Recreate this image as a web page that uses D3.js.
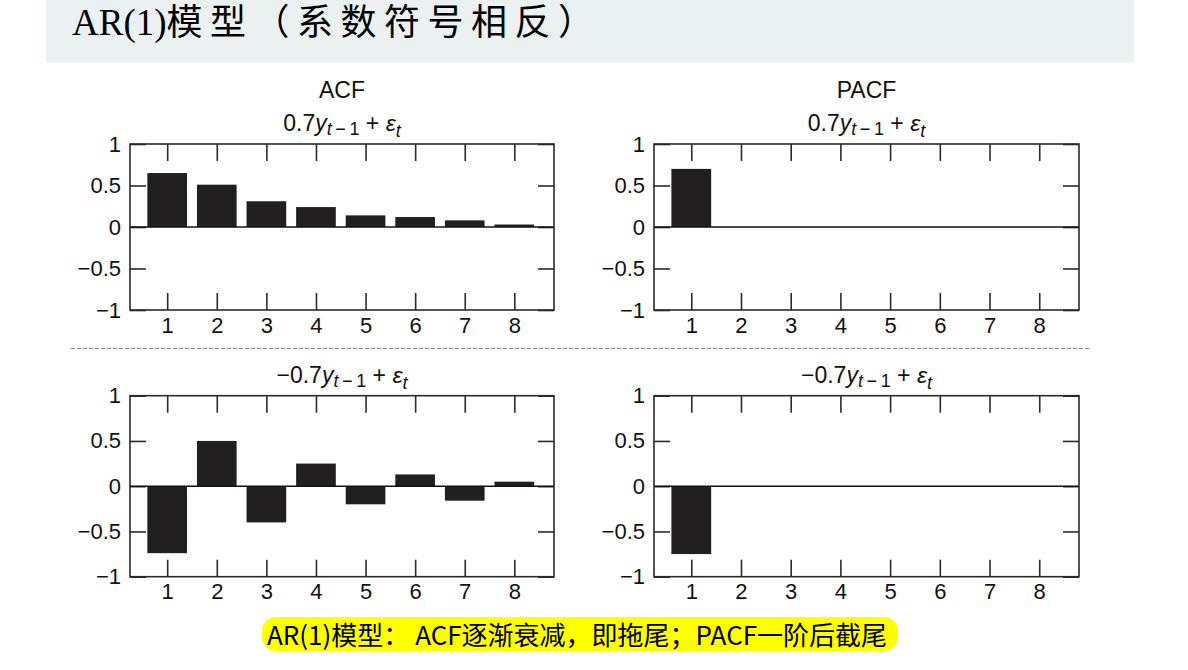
<!DOCTYPE html>
<html>
<head>
<meta charset="utf-8">
<script src="https://cdn.jsdelivr.net/npm/d3@7/dist/d3.min.js"></script>
<style>
  html, body { margin: 0; padding: 0; background: #fff; }
  svg { display: block; }
</style>
</head>
<body>
<svg id="chart" width="1188" height="670"></svg>
<script>
// ---- data ----
const lags = [1, 2, 3, 4, 5, 6, 7, 8];
const acfPositive  = [0.65, 0.51, 0.31, 0.24, 0.14, 0.12, 0.08, 0.03];
const pacfPositive = [0.70, 0, 0, 0, 0, 0, 0, 0];
const acfNegative  = [-0.74, 0.50, -0.40, 0.25, -0.20, 0.13, -0.16, 0.05];
const pacfNegative = [-0.75, 0, 0, 0, 0, 0, 0, 0];
const yTickValues = [-1, -0.5, 0, 0.5, 1];
const yTickLabels = ["\u22121", "\u22120.5", "0", "0.5", "1"];
const columnTitles = ["ACF", "PACF"];
const pageTitleLatin = "AR(1)";
const pageTitleCJK = "模型（系数符号相反）";
const noteText = "AR(1)模型： ACF逐渐衰减，即拖尾；PACF一阶后截尾";

// ---- layout ----
const svg = d3.select("#chart");
const cols = [{x0: 130, x1: 554}, {x0: 654, x1: 1079}];
const rows = [{y0: 144, y1: 310, coef: "0.7", subY: 131}, {y0: 395.7, y1: 576.7, coef: "\u22120.7", subY: 383}];
const seriesGrid = [[acfPositive, pacfPositive], [acfNegative, pacfNegative]];

// title band
svg.append("rect").attr("x", 46).attr("y", 0).attr("width", 1088).attr("height", 62.5).attr("fill", "#ebf1f1");
const t = svg.append("text").attr("x", 72).attr("y", 35).attr("fill", "#000");
t.append("tspan").text(pageTitleLatin)
  .attr("font-family", "'Liberation Serif', 'DejaVu Serif', serif").attr("font-size", 37);
t.append("tspan").text(pageTitleCJK)
  .attr("font-family", "'Noto Sans CJK SC', sans-serif").attr("font-size", 36)
  .attr("letter-spacing", 7.5);

// dashed separator
svg.append("line").attr("x1", 71).attr("x2", 1089).attr("y1", 348.5).attr("y2", 348.5)
  .attr("stroke", "#8a8a8a").attr("stroke-width", 1).attr("stroke-dasharray", "4,2");

const ink = "#2a2a2a";
const sansFont = "'Liberation Sans', Arial, sans-serif";

rows.forEach((row, ri) => {
  cols.forEach((col, ci) => {
    const values = seriesGrid[ri][ci];
    const x = d3.scaleLinear().domain([0.25, 8.8]).range([col.x0, col.x1]);
    const y = d3.scaleLinear().domain([-1, 1]).range([row.y1, row.y0]);
    const g = svg.append("g");
    const cx = (col.x0 + col.x1) / 2;

    // column title (top row only)
    if (ri === 0) {
      g.append("text").attr("x", cx).attr("y", 98).attr("text-anchor", "middle")
        .attr("font-family", sansFont).attr("font-size", 23).attr("fill", "#111")
        .text(columnTitles[ci]);
    }
    // formula subtitle
    const f = g.append("text").attr("x", cx).attr("y", row.subY).attr("text-anchor", "middle")
      .attr("font-family", sansFont).attr("font-size", 23).attr("fill", "#111");
    f.append("tspan").text(row.coef);
    f.append("tspan").attr("font-style", "italic").text("y");
    f.append("tspan").attr("font-size", 18).attr("dy", 4).attr("font-style", "italic").text("t");
    f.append("tspan").attr("font-size", 18).text("\u2009\u2212\u20091");
    f.append("tspan").attr("dy", -4).text(" + ");
    f.append("tspan").attr("font-style", "italic").text("\u03b5");
    f.append("tspan").attr("font-size", 18).attr("dy", 6).attr("font-style", "italic").text("t");

    // bars
    g.selectAll("rect.bar").data(lags.map((l, i) => ({lag: l, v: values[i]})).filter(d => d.v !== 0))
      .join("rect").attr("class", "bar")
      .attr("x", d => x(d.lag - 0.4))
      .attr("width", d => x(d.lag + 0.4) - x(d.lag - 0.4))
      .attr("y", d => y(Math.max(0, d.v)))
      .attr("height", d => Math.abs(y(d.v) - y(0)))
      .attr("fill", "#231f20");

    // axes
    const axB = g.append("g").attr("transform", `translate(0,${row.y1})`)
      .call(d3.axisBottom(x).tickValues(lags).tickSize(-17).tickPadding(7).tickFormat(d3.format("d")));
    const axT = g.append("g").attr("transform", `translate(0,${row.y0})`)
      .call(d3.axisTop(x).tickValues(lags).tickSize(-17).tickFormat(""));
    const axL = g.append("g").attr("transform", `translate(${col.x0},0)`)
      .call(d3.axisLeft(y).tickValues(yTickValues).tickSize(-16).tickPadding(9)
        .tickFormat(d => yTickLabels[yTickValues.indexOf(d)]));
    const axR = g.append("g").attr("transform", `translate(${col.x1},0)`)
      .call(d3.axisRight(y).tickValues(yTickValues).tickSize(-16).tickFormat(""));
    [axB, axT, axL, axR].forEach(a => {
      a.select(".domain").remove();
      a.selectAll("line").attr("stroke", ink).attr("stroke-width", 1.6);
      a.selectAll("text").attr("font-family", sansFont).attr("font-size", 22).attr("fill", "#111");
    });

    // zero line
    g.append("line").attr("x1", col.x0).attr("x2", col.x1).attr("y1", y(0)).attr("y2", y(0))
      .attr("stroke", "#111").attr("stroke-width", 1.6);
    // frame
    g.append("rect").attr("x", col.x0).attr("y", row.y0)
      .attr("width", col.x1 - col.x0).attr("height", row.y1 - row.y0)
      .attr("fill", "none").attr("stroke", ink).attr("stroke-width", 1.6);
  });
});

// highlighted note
svg.append("rect").attr("x", 262).attr("y", 617).attr("width", 636).attr("height", 34)
  .attr("rx", 14).attr("fill", "#ffff00");
svg.append("text").attr("x", 267).attr("y", 645).attr("xml:space", "preserve")
  .style("white-space", "pre")
  .attr("font-family", "'Noto Sans CJK SC', sans-serif").attr("font-size", 26).attr("fill", "#000")
  .text(noteText);
</script>
</body>
</html>
